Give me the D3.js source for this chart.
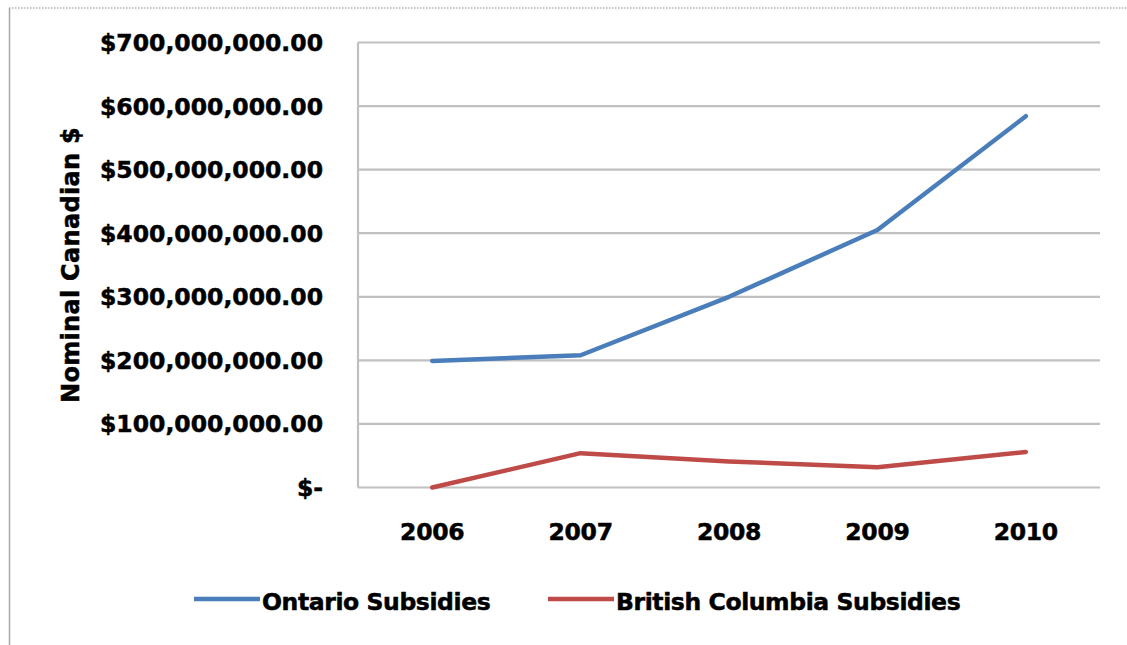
<!DOCTYPE html>
<html>
<head>
<meta charset="utf-8">
<script src="https://cdn.jsdelivr.net/npm/d3@7"></script>
<style>
  html, body { margin: 0; padding: 0; background: #fff; }
  svg { display: block; }
  text { font-family: "DejaVu Sans", sans-serif; font-weight: bold; fill: #000; }
</style>
</head>
<body>
<svg id="chart" width="1127" height="645"></svg>
<script>
// Subsidy data, nominal Canadian dollars
const years = ["2006", "2007", "2008", "2009", "2010"];
const ontario = [199000000, 208000000, 300000000, 405000000, 584000000];
const britishColumbia = [0, 54000000, 41000000, 32000000, 56000000];
const yTicks = [0, 100000000, 200000000, 300000000, 400000000, 500000000, 600000000, 700000000];
const seriesNames = ["Ontario Subsidies", "British Columbia Subsidies"];
const seriesColors = ["#4a7ebb", "#be4b48"];

const svg = d3.select("#chart");
const W = 1127, H = 645;
const plot = { left: 358, right: 1100, top: 42.5, bottom: 487.5 };

// chart frame
svg.append("line").attr("x1", 9).attr("x2", W).attr("y1", 8).attr("y2", 8)
  .attr("stroke", "#b4b4b4").attr("stroke-width", 1.5).attr("stroke-dasharray", "1.5 1.5");
svg.append("line").attr("x1", 9.5).attr("x2", 9.5).attr("y1", 8).attr("y2", H)
  .attr("stroke", "#a8a8a8").attr("stroke-width", 1.5);

const x = d3.scaleBand().domain(years).range([plot.left, plot.right]);
const y = d3.scaleLinear().domain([0, 700000000]).range([plot.bottom, plot.top]);

// horizontal gridlines
svg.append("g").selectAll("line").data(yTicks).join("line")
  .attr("x1", plot.left).attr("x2", plot.right)
  .attr("y1", d => y(d)).attr("y2", d => y(d))
  .attr("stroke", "#c0c0c0").attr("stroke-width", 2.2);

// vertical axis line
svg.append("line").attr("x1", plot.left).attr("x2", plot.left)
  .attr("y1", plot.top).attr("y2", plot.bottom)
  .attr("stroke", "#c0c0c0").attr("stroke-width", 2.2);

// heavier text to match the bold chart typeface
function boldText(sel) {
  sel.attr("font-family", "DejaVu Sans").attr("font-weight", "bold")
    .attr("fill", "#000").attr("stroke", "#000").attr("stroke-width", 0.5);
}

// y axis labels
const fmt = d => d === 0 ? "$-" : "$" + d3.format(",.2f")(d);
const yAxis = d3.axisLeft(y).tickValues(yTicks).tickFormat(fmt).tickSize(0).tickPadding(35);
const gy = svg.append("g").attr("transform", `translate(${plot.left},0)`).call(yAxis);
gy.select(".domain").remove();
gy.selectAll("text")
  .attr("font-size", 23.5)
  .attr("dy", "0.34em")
  .call(boldText);

// x axis labels
const xAxis = d3.axisBottom(x).tickSize(0).tickPadding(36);
const gx = svg.append("g").attr("transform", `translate(0,${plot.bottom})`).call(xAxis);
gx.select(".domain").remove();
gx.selectAll("text")
  .attr("font-size", 23.5)
  .attr("letter-spacing", -0.3)
  .call(boldText);

// y axis title
svg.append("text")
  .attr("transform", "translate(79,265) rotate(-90)")
  .attr("text-anchor", "middle")
  .attr("font-size", 24)
  .attr("letter-spacing", 0.3)
  .text("Nominal Canadian $")
  .call(boldText);

// series lines
const line = d3.line()
  .x((d, i) => x(years[i]) + x.bandwidth() / 2)
  .y(d => y(d));

[ontario, britishColumbia].forEach((vals, k) => {
  svg.append("path")
    .datum(vals)
    .attr("d", line)
    .attr("fill", "none")
    .attr("stroke", seriesColors[k])
    .attr("stroke-width", 4.5)
    .attr("stroke-linejoin", "round")
    .attr("stroke-linecap", "round");
});

// legend
const legendItems = [
  { name: seriesNames[0], color: seriesColors[0], x0: 194 },
  { name: seriesNames[1], color: seriesColors[1], x0: 548 }
];
const lg = svg.append("g");
legendItems.forEach(it => {
  lg.append("line")
    .attr("x1", it.x0).attr("x2", it.x0 + 66)
    .attr("y1", 599).attr("y2", 599)
    .attr("stroke", it.color).attr("stroke-width", 4.5);
  lg.append("text")
    .attr("x", it.x0 + 68).attr("y", 602)
    .attr("dy", "0.36em")
    .attr("font-size", 23.5)
    .attr("letter-spacing", -0.4)
    .text(it.name)
    .call(boldText);
});
</script>
</body>
</html>
